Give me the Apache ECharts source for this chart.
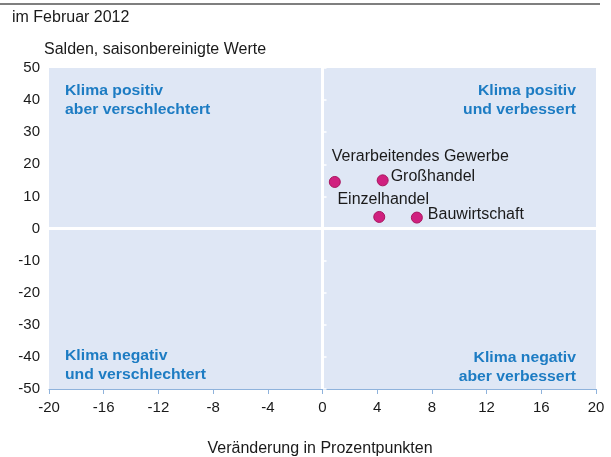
<!DOCTYPE html>
<html>
<head>
<meta charset="utf-8">
<script src="https://cdn.jsdelivr.net/npm/echarts@6/dist/echarts.min.js"></script>
<style>html,body{margin:0;padding:0;background:#fff}#c{width:611px;height:457px}</style>
</head>
<body>
<div id="c"></div>
<script>
const names = ['Verarbeitendes Gewerbe', 'Großhandel', 'Einzelhandel', 'Bauwirtschaft'];
const changes = [0.9, 4.4, 4.15, 6.9];
const balances = [14.5, 15.0, 3.6, 3.4];
const xTicks = [-20, -16, -12, -8, -4, 0, 4, 8, 12, 16, 20];
const yTicks = [-50, -40, -30, -20, -10, 0, 10, 20, 30, 40, 50];
const quadrants = [
  ['Klima positiv', 'aber verschlechtert'],
  ['Klima positiv', 'und verbessert'],
  ['Klima negativ', 'und verschlechtert'],
  ['Klima negativ', 'aber verbessert']
];

const FONT = '"Liberation Sans", Arial, sans-serif';
const labelStyles = {
  'Verarbeitendes Gewerbe': {position: 'top', align: 'left', offset: [-3, -6], distance: 5},
  'Großhandel': {position: 'right', offset: [0, -4], distance: 2},
  'Einzelhandel': {position: 'top', offset: [4, 0], distance: 3},
  'Bauwirtschaft': {position: 'right', offset: [0, -3], distance: 5}
};

const chart = echarts.init(document.getElementById('c'), null, {renderer: 'canvas'});
const qText = {fill: '#1d7cc3', font: 'bold 15px ' + FONT, lineHeight: 19};
chart.setOption({
  animation: false,
  grid: {left: 49, right: 15, top: 68, bottom: 68, show: true, backgroundColor: '#dfe7f5', borderWidth: 0},
  xAxis: {
    type: 'value', min: xTicks[0], max: xTicks[xTicks.length - 1], interval: 4,
    axisLine: {onZero: false, lineStyle: {color: '#8fb3dc', width: 1}},
    axisTick: {show: true, length: 5, lineStyle: {color: '#8fb3dc'}},
    splitLine: {show: false},
    axisLabel: {color: '#1a1a1a', fontFamily: FONT, fontSize: 15, margin: 11}
  },
  yAxis: {
    type: 'value', min: yTicks[0], max: yTicks[yTicks.length - 1], interval: 10,
    axisLine: {show: false},
    axisTick: {show: true, inside: true, length: 4, lineStyle: {color: '#ffffff', width: 1.5}},
    splitLine: {show: false},
    axisLabel: {color: '#1a1a1a', fontFamily: FONT, fontSize: 15, margin: 9}
  },
  graphic: [
    {type: 'line', shape: {x1: 0, y1: 4, x2: 600, y2: 4}, style: {stroke: '#555', lineWidth: 1.5}},
    {type: 'text', left: 12, top: 10, style: {text: 'im Februar 2012', fill: '#1a1a1a', font: '16px ' + FONT}},
    {type: 'text', left: 44, top: 42, style: {text: 'Salden, saisonbereinigte Werte', fill: '#1a1a1a', font: '16px ' + FONT}},
    {type: 'text', x: 320, y: 449, style: {text: 'Veränderung in Prozentpunkten', fill: '#1a1a1a', font: '16px ' + FONT, align: 'center', verticalAlign: 'middle'}},
    {type: 'text', x: 65, y: 81, scaleX: 1.05, style: Object.assign({text: quadrants[0].join('\n'), align: 'left'}, qText)},
    {type: 'text', x: 576, y: 81, scaleX: 1.05, style: Object.assign({text: quadrants[1].join('\n'), align: 'right'}, qText)},
    {type: 'text', x: 65, y: 346, scaleX: 1.05, style: Object.assign({text: quadrants[2].join('\n'), align: 'left'}, qText)},
    {type: 'text', x: 576, y: 348, scaleX: 1.05, style: Object.assign({text: quadrants[3].join('\n'), align: 'right'}, qText)}
  ],
  series: [{
    type: 'scatter',
    symbolSize: 11,
    itemStyle: {color: '#d0207f', borderColor: '#a8165f', borderWidth: 1, opacity: 1},
    label: {show: true, formatter: p => p.name, color: '#1a1a1a', fontFamily: FONT, fontSize: 16},
    data: names.map((n, i) => ({name: n, value: [changes[i], balances[i]], label: labelStyles[n]})),
    markLine: {
      silent: true, symbol: 'none', label: {show: false},
      lineStyle: {color: '#ffffff', width: 3, type: 'solid'},
      data: [{xAxis: 0}, {yAxis: 0}]
    },
    z: 3
  }]
});
</script>
</body>
</html>
